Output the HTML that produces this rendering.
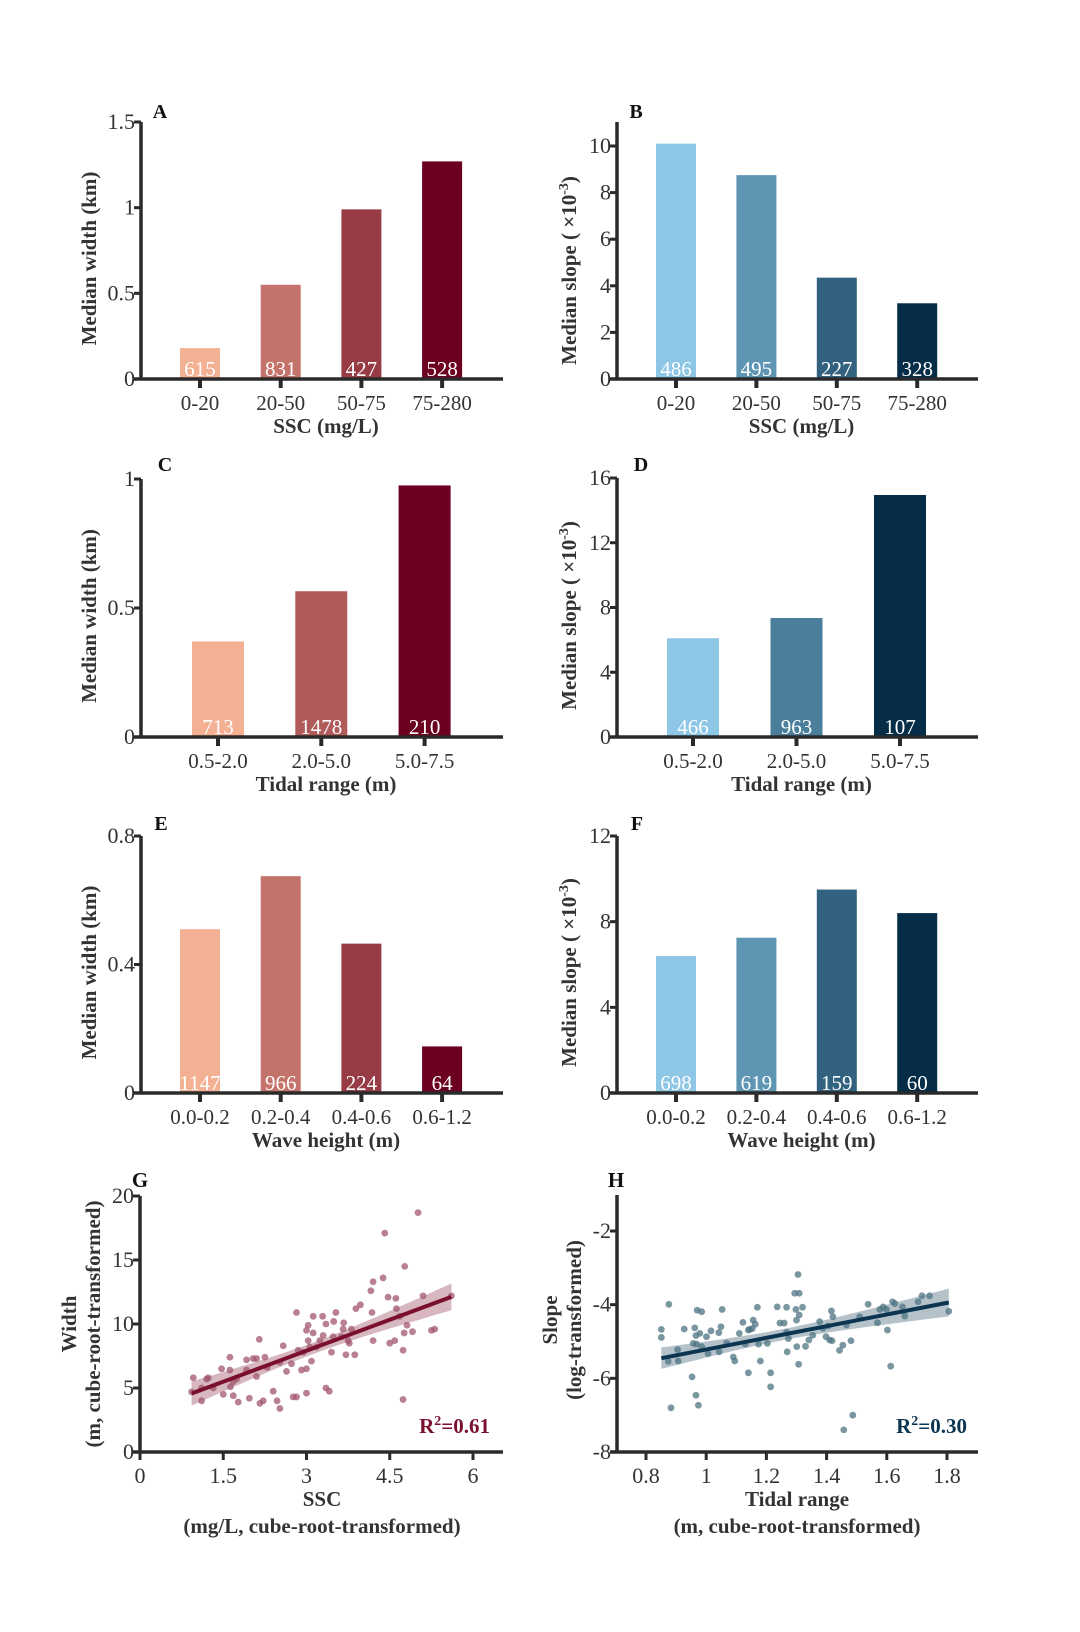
<!DOCTYPE html>
<html><head><meta charset="utf-8"><style>
body{margin:0;background:#fff}
svg{display:block}
svg text{font-family:"Liberation Serif","DejaVu Serif",serif}
</style></head><body>
<svg id="fig" width="1080" height="1632" viewBox="0 0 1080 1632" xmlns="http://www.w3.org/2000/svg" font-family="Liberation Serif, DejaVu Serif, serif"></svg>
<script>
// ---- data ----
const catSSC = ["0-20","20-50","50-75","75-280"];
const catTide = ["0.5-2.0","2.0-5.0","5.0-7.5"];
const catWave = ["0.0-0.2","0.2-0.4","0.4-0.6","0.6-1.2"];
const widthSSC = [0.18, 0.55, 0.99, 1.27];
const countWidthSSC = [615, 831, 427, 528];
const slopeSSC = [10.1, 8.75, 4.35, 3.25];
const countSlopeSSC = [486, 495, 227, 328];
const widthTide = [0.37, 0.565, 0.975];
const countWidthTide = [713, 1478, 210];
const slopeTide = [6.1, 7.35, 14.95];
const countSlopeTide = [466, 963, 107];
const widthWave = [0.51, 0.675, 0.465, 0.145];
const countWidthWave = [1147, 966, 224, 64];
const slopeWave = [6.4, 7.25, 9.5, 8.4];
const countSlopeWave = [698, 619, 159, 60];
const ticksA = ["0","0.5","1","1.5"];
const ticksB = ["0","2","4","6","8","10"];
const ticksC = ["0","0.5","1"];
const ticksD = ["0","4","8","12","16"];
const ticksE = ["0","0.4","0.8"];
const ticksF = ["0","4","8","12"];
const gX = [5.01,4.41,4.77,4.38,4.2,4.16,4.47,4.61,5.1,5.61,4.62,3.89,3.97,4.18,4.68,3.12,3.29,3.53,2.82,3.49,3.35,3.67,3.03,4.81,3.0,3.12,3.3,3.66,3.81,4.91,4.76,5.25,5.31,3.48,3.63,3.75,4.2,4.59,4.5,3.77,3.03,3.24,2.85,2.94,3.18,3.06,3.45,3.71,3.87,4.74,2.58,2.15,2.73,3.09,3.0,2.91,2.64,2.52,2.25,2.04,1.92,2.1,1.62,1.47,1.62,1.74,1.68,1.92,2.1,2.29,1.2,1.23,1.32,0.96,0.93,1.11,1.11,1.63,1.5,1.68,1.77,1.97,2.16,2.22,2.4,2.47,2.52,2.76,2.82,3.0,3.35,3.41,4.74];
const gY = [18.7,17.1,14.5,13.6,13.3,12.6,12.1,12.0,12.2,12.2,11.2,11.2,11.5,10.9,10.6,10.6,10.6,10.9,10.9,10.2,10.0,10.1,9.9,9.9,9.5,9.3,9.1,9.6,9.6,9.4,9.3,9.5,9.6,9.0,9.0,8.7,8.7,8.7,8.5,8.5,8.7,8.7,7.95,7.8,8.2,8.2,7.8,7.6,7.6,7.95,8.3,8.8,6.9,7.1,6.5,6.4,6.3,7.0,7.4,7.3,7.2,7.3,7.4,6.5,6.4,5.7,5.5,6.4,5.9,6.6,5.7,5.8,5.0,5.8,4.7,5.0,4.0,5.1,4.5,4.4,3.9,4.2,3.8,4.0,4.75,4.0,3.4,4.3,4.3,4.6,5.0,4.75,4.1];
const hX = [1.305,1.294,1.309,0.876,0.97,0.985,1.053,1.17,1.236,1.267,1.298,1.32,1.309,1.3,1.245,1.259,1.122,1.156,1.163,1.416,1.421,1.377,1.388,1.405,1.466,1.51,1.538,1.588,1.599,1.577,1.619,1.627,1.652,1.66,1.569,1.704,1.717,1.742,1.806,1.602,1.613,0.851,0.851,0.874,0.907,0.905,0.927,0.962,0.966,0.979,0.957,0.968,0.985,1.001,1.016,1.042,1.049,1.006,1.043,1.068,1.09,1.095,1.11,1.14,1.145,1.153,1.13,1.174,1.203,1.18,1.14,1.214,1.214,1.267,1.273,1.269,1.301,1.307,1.33,1.341,1.354,1.398,1.41,1.418,1.443,1.454,1.481,0.953,0.966,0.974,0.883,1.487,1.457];
const hY = [-3.18,-3.69,-3.69,-3.99,-4.15,-4.19,-4.13,-4.07,-4.06,-4.07,-4.13,-4.07,-4.28,-4.42,-4.5,-4.5,-4.48,-4.42,-4.53,-4.17,-4.33,-4.46,-4.64,-4.58,-4.55,-4.33,-3.99,-4.06,-4.13,-4.13,-3.92,-3.97,-4.06,-4.31,-4.49,-3.92,-3.76,-3.76,-4.18,-4.69,-5.67,-4.67,-4.89,-5.54,-5.53,-5.22,-4.66,-4.63,-4.84,-4.78,-5.05,-5.07,-5.14,-4.87,-4.71,-4.76,-4.6,-5.33,-5.28,-5.04,-5.42,-5.53,-4.78,-4.69,-4.67,-4.65,-5.07,-5.07,-5.05,-5.53,-5.85,-5.85,-6.23,-4.75,-4.92,-5.28,-5.14,-5.62,-5.13,-4.96,-4.83,-4.87,-4.96,-4.98,-5.24,-5.1,-4.98,-5.96,-6.46,-6.73,-6.8,-7.0,-7.4];
// fitted line [intercept, slope] as shown in the figure
const gFit = [3.07, 1.613];
const hFit = [-6.80, 1.583];
const gXTicks = ["0","1.5","3","4.5","6"];
const gYTicks = ["0","5","10","15","20"];
const hXTicks = ["0.8","1","1.2","1.4","1.6","1.8"];
const hYTicks = ["-8","-6","-4","-2"];

const reds4 = ["#F4B092","#C4736A","#973B45","#6B0020"];
const reds3 = ["#F4B092","#B05A5A","#6B0020"];
const blues4 = ["#8EC6E6","#5E95B3","#32627F","#052D48"];
const blues3 = ["#8EC6E6","#4A7E9B","#052D48"];

const NS = "http://www.w3.org/2000/svg";
const svg = document.getElementById('fig');
function mk(tag, attrs, parent, txt){
  const e = document.createElementNS(NS, tag);
  for (const k in attrs) e.setAttribute(k, attrs[k]);
  if (txt !== undefined) e.textContent = txt;
  (parent || svg).appendChild(e);
  return e;
}
function group(name){
  const g = mk('g', {});
  
  
  return g;
}
function label(g, name, x, y, txt, opts){
  const t = mk('text', Object.assign({x:x, y:y, 'font-size':20, fill:'#333', 'text-anchor':'middle', 'font-family':'Liberation Serif, DejaVu Serif, serif'}, opts||{}), g, txt);
  
  
  return t;
}
function yTitle(g, x, cy, parts){
  const t = mk('text', {transform:`translate(${x},${cy}) rotate(-90)`, 'font-size':21, 'font-weight':'bold', fill:'#333', 'text-anchor':'middle', 'font-family':'Liberation Serif, DejaVu Serif, serif'}, g);
  
  
  parts.forEach(p => { mk('tspan', p.sup ? {'font-size':14, dy:-8} : (p.down ? {dy:8} : {}), t, p.t); });
  return t;
}

function barPanel(o){
  const g = group('panel-' + o.letter.toLowerCase());
  const y = v => o.y0 - (v / o.vmax) * (o.y0 - o.ytop);
  const x = i => o.xc0 + i * o.step;
  o.vals.forEach((v, i) => {
    const r = mk('rect', {x:x(i) - o.bw/2, y:y(v), width:o.bw, height:o.y0 - y(v), fill:o.colors[i]}, g);
    
    
    label(g, 'bar-count', x(i), o.y0 - 3, String(o.counts[i]), {fill:'#fff', 'font-size':21});
  });
  const ya = mk('line', {x1:o.ax, y1:o.axTop, x2:o.ax, y2:o.y0 + 1.5, stroke:'#2a2a2a', 'stroke-width':3.5}, g);
   
  const xa = mk('line', {x1:o.ax - 8, y1:o.y0, x2:o.axEnd, y2:o.y0, stroke:'#2a2a2a', 'stroke-width':3.5}, g);
   
  o.ticks.forEach(t => {
    const ty = y(parseFloat(t));
    mk('line', {x1:o.ax - 7, y1:ty, x2:o.ax, y2:ty, stroke:'#2a2a2a', 'stroke-width':3}, g);
    label(g, 'y-tick-label', o.ax - 6, ty + 7, t, {'text-anchor':'end', 'font-size':22});
  });
  o.cats.forEach((c, i) => {
    mk('line', {x1:x(i), y1:o.y0, x2:x(i), y2:o.y0 + 9, stroke:'#2a2a2a', 'stroke-width':4}, g);
    label(g, 'x-tick-label', x(i), o.y0 + 31, c, {'font-size':21});
  });
  label(g, 'x-axis-title', (o.ax + o.axEnd) / 2 + 4, o.y0 + 54, o.xtitle, {'font-weight':'bold', 'font-size':21});
  yTitle(g, o.ytx, (o.ytop + o.y0) / 2 + 8, o.ytitle);
  label(g, 'panel-letter', o.lx, o.ly, o.letter, {'font-weight':'bold', fill:'#111', 'font-size':20});
}

const wTitle = [{t:'Median width (km)'}];
const sTitle = [{t:'Median slope ( \u00D710'},{t:'-3',sup:true},{t:')',down:true}];

barPanel({letter:'A', cats:catSSC, vals:widthSSC, counts:countWidthSSC, colors:reds4, ticks:ticksA, vmax:1.5, y0:379, ytop:122, axTop:122, ax:141, axEnd:503, xc0:200, step:80.7, bw:40, xtitle:'SSC (mg/L)', ytitle:wTitle, ytx:96, lx:160, ly:118});
barPanel({letter:'B', cats:catSSC, vals:slopeSSC, counts:countSlopeSSC, colors:blues4, ticks:ticksB, vmax:10, y0:379, ytop:146, axTop:122, ax:617, axEnd:978, xc0:676, step:80.4, bw:40, xtitle:'SSC (mg/L)', ytitle:sTitle, ytx:576, lx:636, ly:118});
barPanel({letter:'C', cats:catTide, vals:widthTide, counts:countWidthTide, colors:reds3, ticks:ticksC, vmax:1, y0:737, ytop:479, axTop:479, ax:141, axEnd:503, xc0:218, step:103.3, bw:52, xtitle:'Tidal range (m)', ytitle:wTitle, ytx:96, lx:165, ly:471});
barPanel({letter:'D', cats:catTide, vals:slopeTide, counts:countSlopeTide, colors:blues3, ticks:ticksD, vmax:16, y0:737, ytop:478, axTop:478, ax:617, axEnd:978, xc0:693, step:103.5, bw:52, xtitle:'Tidal range (m)', ytitle:sTitle, ytx:576, lx:641, ly:471});
barPanel({letter:'E', cats:catWave, vals:widthWave, counts:countWidthWave, colors:reds4, ticks:ticksE, vmax:0.8, y0:1093, ytop:836, axTop:836, ax:141, axEnd:503, xc0:200, step:80.7, bw:40, xtitle:'Wave height (m)', ytitle:wTitle, ytx:96, lx:161, ly:830});
barPanel({letter:'F', cats:catWave, vals:slopeWave, counts:countSlopeWave, colors:blues4, ticks:ticksF, vmax:12, y0:1093, ytop:836, axTop:836, ax:617, axEnd:978, xc0:676, step:80.4, bw:40, xtitle:'Wave height (m)', ytitle:sTitle, ytx:576, lx:637, ly:830});

function scatterPanel(o){
  const g = group('panel-' + o.letter.toLowerCase());
  const sx = v => o.px0 + (v - o.x0) / (o.x1 - o.x0) * (o.px1 - o.px0);
  const sy = v => o.py0 - (v - o.y0) / (o.y1 - o.y0) * (o.py0 - o.py1);
  const n = o.xs.length;
  const a = o.fit[0], b = o.fit[1];
  const mx = o.xs.reduce((p,q)=>p+q,0)/n;
  let sxx = 0, sse = 0;
  o.xs.forEach((x,i)=>{ sxx += (x-mx)*(x-mx); const r = o.ys[i]-(a+b*x); sse += r*r; });
  const se = Math.sqrt(sse/(n-2));
  const xmin = Math.min(...o.xs), xmax = Math.max(...o.xs);
  const up = [], lo = [];
  for (let k = 0; k <= 30; k++){
    const x = xmin + (xmax - xmin) * k / 30;
    const h = 1.99 * se * Math.sqrt(1/n + (x-mx)*(x-mx)/sxx);
    up.push(sx(x).toFixed(1) + ',' + sy(a+b*x+h).toFixed(1));
    lo.unshift(sx(x).toFixed(1) + ',' + sy(a+b*x-h).toFixed(1));
  }
  const band = mk('polygon', {points: up.concat(lo).join(' '), fill:o.color, 'fill-opacity':0.3}, g);
   
  o.xs.forEach((x,i)=>{
    const c = mk('circle', {cx:sx(x), cy:sy(o.ys[i]), r:3.4, fill:o.pcolor, 'fill-opacity':0.75}, g);
     
  });
  const ln = mk('line', {x1:sx(xmin), y1:sy(a+b*xmin), x2:sx(xmax), y2:sy(a+b*xmax), stroke:o.color, 'stroke-width':4}, g);
   
  const ya = mk('line', {x1:o.ax, y1:o.axTop, x2:o.ax, y2:o.py0 + 1.5, stroke:'#2a2a2a', 'stroke-width':3.5}, g);
   
  const xa = mk('line', {x1:o.ax - 7, y1:o.py0, x2:o.axEnd, y2:o.py0, stroke:'#2a2a2a', 'stroke-width':3.5}, g);
   
  o.yt.forEach(t=>{
    const ty = sy(parseFloat(t));
    mk('line', {x1:o.ax - 7, y1:ty, x2:o.ax, y2:ty, stroke:'#2a2a2a', 'stroke-width':3}, g);
    label(g, 'y-tick-label', o.ax - 6, ty + 7, t, {'text-anchor':'end', 'font-size':22});
  });
  o.xt.forEach(t=>{
    const tx = sx(parseFloat(t));
    mk('line', {x1:tx, y1:o.py0, x2:tx, y2:o.py0 + 8, stroke:'#2a2a2a', 'stroke-width':3}, g);
    label(g, 'x-tick-label', tx, o.py0 + 31, t, {'font-size':22});
  });
  label(g, 'x-axis-title', o.xtc, o.py0 + 54, o.xt1, {'font-weight':'bold', 'font-size':21});
  label(g, 'x-axis-subtitle', o.xtc, o.py0 + 81, o.xt2, {'font-weight':'bold', 'font-size':21});
  const t1 = mk('text', {transform:`translate(${o.yt1x},${o.ytc}) rotate(-90)`, 'font-size':21, 'font-weight':'bold', fill:'#333', 'text-anchor':'middle', 'font-family':'Liberation Serif, DejaVu Serif, serif'}, g, o.yl1);
   
  const t2 = mk('text', {transform:`translate(${o.yt2x},${o.ytc}) rotate(-90)`, 'font-size':21, 'font-weight':'bold', fill:'#333', 'text-anchor':'middle', 'font-family':'Liberation Serif, DejaVu Serif, serif'}, g, o.yl2);
   
  const r = mk('text', {x:o.rx, y:o.ry, 'font-size':21, 'font-weight':'bold', fill:o.color, 'text-anchor':'end', 'font-family':'Liberation Serif, DejaVu Serif, serif'}, g);
   
  mk('tspan', {}, r, 'R'); mk('tspan', {'font-size':14, dy:-8}, r, '2'); mk('tspan', {dy:8}, r, o.rtxt);
  label(g, 'panel-letter', o.lx, o.ly, o.letter, {'font-weight':'bold', fill:'#111', 'font-size':21});
}

scatterPanel({letter:'G', xs:gX, ys:gY, fit:gFit, color:'#7A0F2E', pcolor:'#A0566E', x0:0, x1:6, px0:140, px1:473, y0:0, y1:20, py0:1452, py1:1196, ax:140, axTop:1196, axEnd:503, xt:gXTicks, yt:gYTicks, xt1:'SSC', xt2:'(mg/L, cube-root-transformed)', xtc:322, yl1:'Width', yl2:'(m, cube-root-transformed)', yt1x:76, yt2x:100, ytc:1324, rx:490, ry:1433, rtxt:'=0.61', lx:140, ly:1187});
scatterPanel({letter:'H', xs:hX, ys:hY, fit:hFit, color:'#0B3550', pcolor:'#4E7482', x0:0.8, x1:1.8, px0:646, px1:947, y0:-8, y1:-2, py0:1452, py1:1231, ax:617, axTop:1195, axEnd:978, xt:hXTicks, yt:hYTicks, xt1:'Tidal range', xt2:'(m, cube-root-transformed)', xtc:797, yl1:'Slope', yl2:'(log-transformed)', yt1x:557, yt2x:581, ytc:1320, rx:967, ry:1433, rtxt:'=0.30', lx:616, ly:1187});
</script>
</body></html>
